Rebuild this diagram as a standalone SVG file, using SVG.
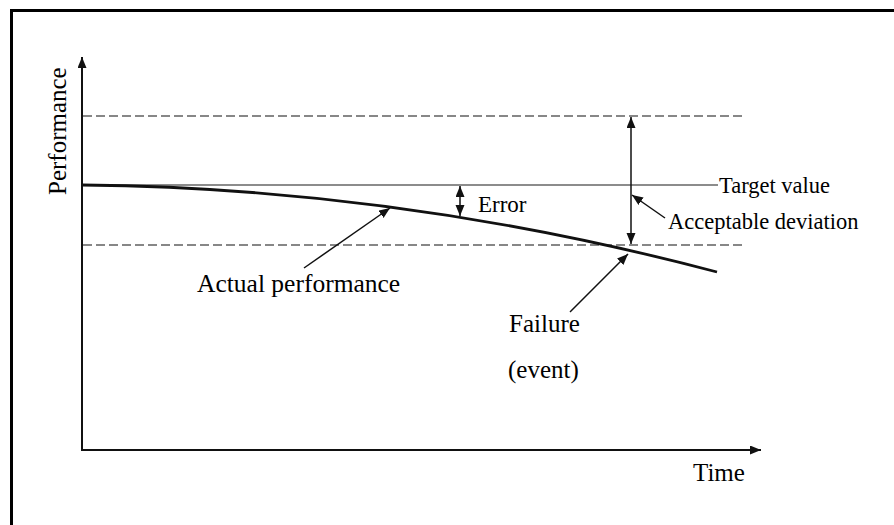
<svg xmlns="http://www.w3.org/2000/svg" width="894" height="525" viewBox="0 0 894 525">
<style>
.t{font-family:"Liberation Serif","Times New Roman",serif;fill:#000}
.ax{stroke:#111;stroke-width:2;fill:none}
.dash{stroke:#111;stroke-width:1.2;stroke-dasharray:9 4;fill:none}
.ptr{stroke:#111;stroke-width:1.5;fill:none}
</style>
<defs>
<marker id="ah" markerUnits="userSpaceOnUse" markerWidth="12" markerHeight="10" refX="11" refY="4.5" orient="auto-start-reverse">
<path d="M0,0 L11,4.5 L0,9 Z" fill="#111"/>
</marker>
</defs>
<rect x="11.5" y="10.5" width="900" height="600" fill="none" stroke="#000" stroke-width="3"/>
<g id="axes">
<line class="ax" x1="82" y1="451" x2="82" y2="57" marker-end="url(#ah)"/>
<line class="ax" x1="81" y1="450" x2="761" y2="450" marker-end="url(#ah)"/>
</g>
<g id="limits">
<line class="dash" x1="83" y1="116" x2="742" y2="116"/>
<line class="dash" x1="83" y1="245" x2="742" y2="245"/>
<line x1="83" y1="185" x2="718" y2="185" stroke="#666" stroke-width="1.5"/>
</g>
<g id="curve">
<path d="M82,185 Q399.5,188 717,272" fill="none" stroke="#111" stroke-width="2.8"/>
</g>
<g id="connectors">
<line class="ptr" x1="460" y1="186" x2="460" y2="216" marker-start="url(#ah)" marker-end="url(#ah)"/>
<line class="ptr" x1="631" y1="117" x2="631" y2="244" marker-start="url(#ah)" marker-end="url(#ah)"/>
<line class="ptr" x1="665" y1="218" x2="632" y2="195" marker-end="url(#ah)"/>
<line class="ptr" x1="304" y1="268" x2="390" y2="208" marker-end="url(#ah)"/>
<line class="ptr" x1="570" y1="312" x2="628" y2="254" marker-end="url(#ah)"/>
</g>
<g id="labels">
<text class="t" font-size="25" transform="translate(66,195) rotate(-90)">Performance</text>
<text class="t" font-size="25" x="693" y="481">Time</text>
<text class="t" font-size="22.5" x="719" y="193">Target value</text>
<text class="t" font-size="22.5" x="668" y="229">Acceptable deviation</text>
<text class="t" font-size="23" x="478" y="212">Error</text>
<text class="t" font-size="25.5" x="197" y="292">Actual performance</text>
<text class="t" font-size="25" x="509" y="332">Failure</text>
<text class="t" font-size="25" x="508" y="378">(event)</text>
</g>
</svg>
